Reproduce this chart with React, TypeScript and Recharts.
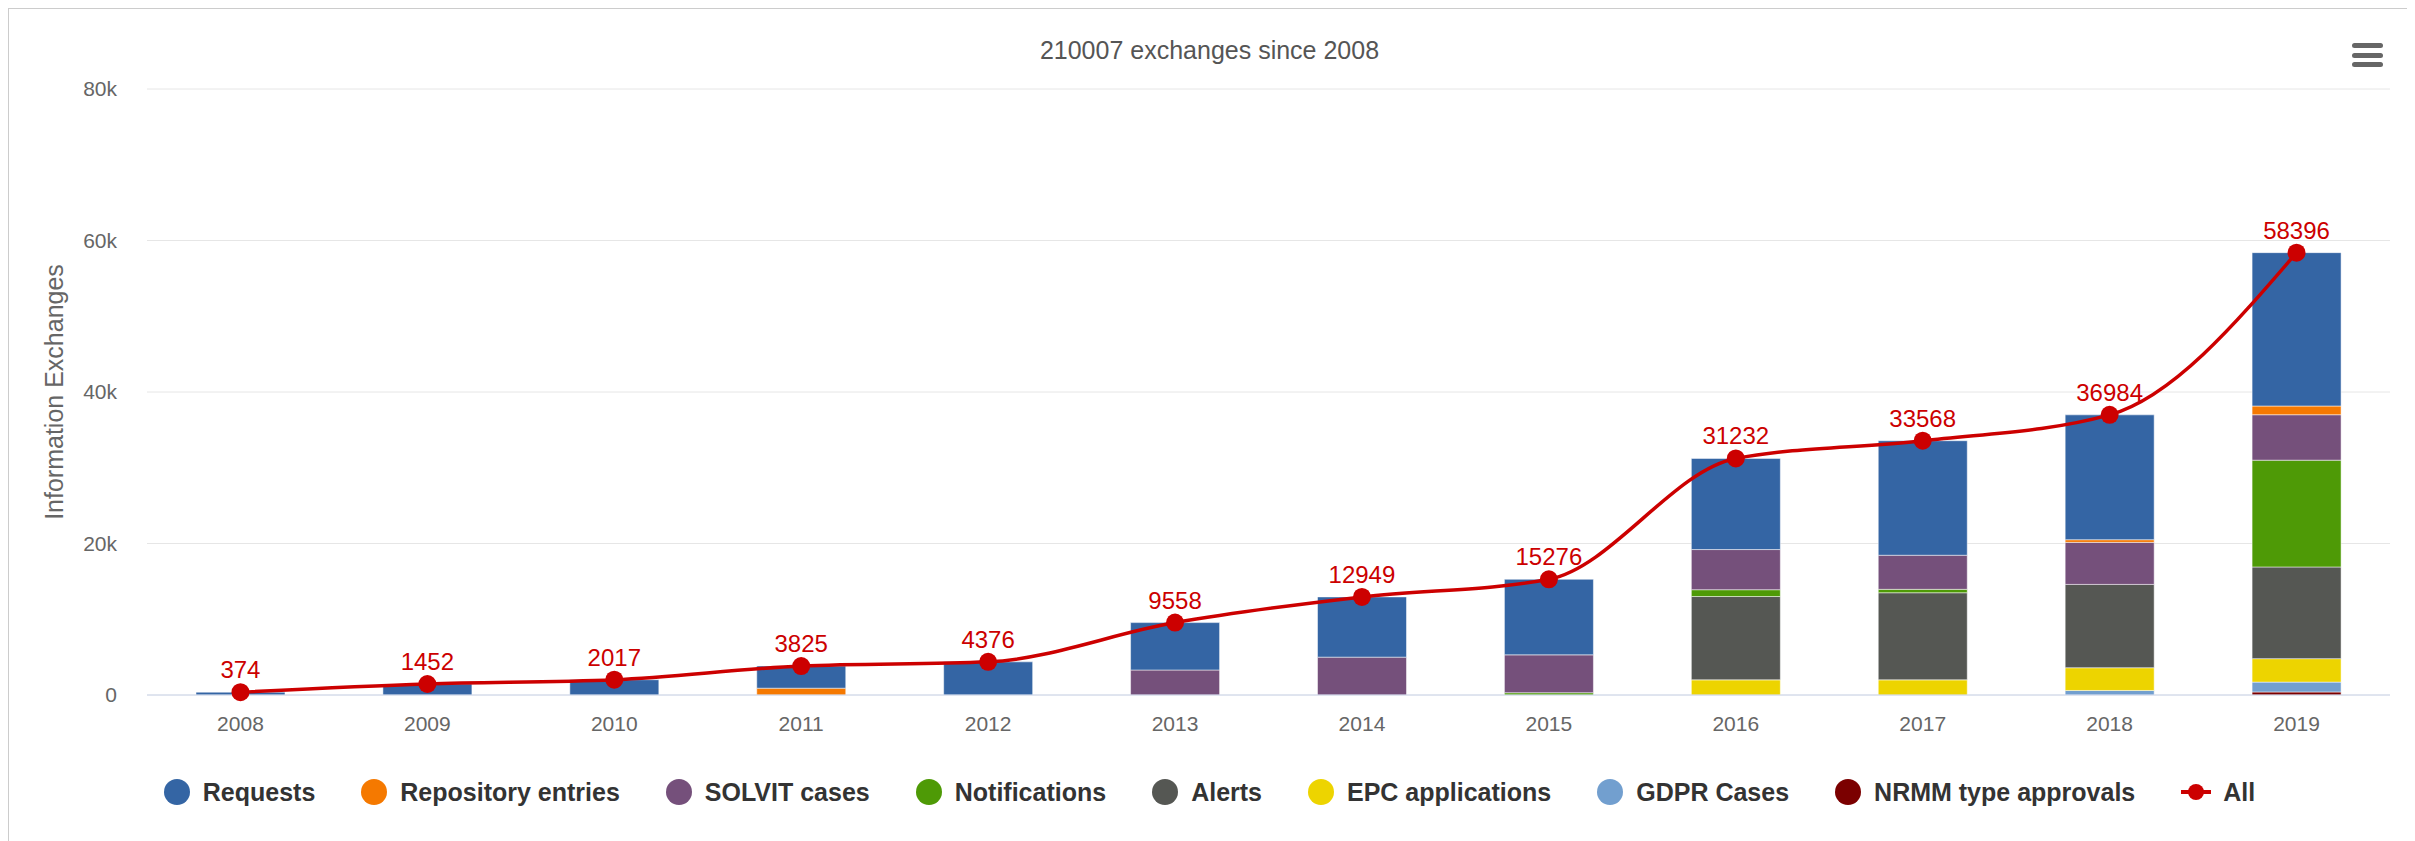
import React from "react";
import { ComposedChart, Bar, Line, XAxis, YAxis, CartesianGrid, LabelList } from "recharts";

const years = ["2008", "2009", "2010", "2011", "2012", "2013", "2014", "2015", "2016", "2017", "2018", "2019"];
const requests = [374, 1452, 2017, 2925, 4376, 6258, 7949, 9976, 12032, 15118, 16484, 20246];
const repositoryEntries = [0, 0, 0, 900, 0, 0, 0, 0, 0, 0, 350, 1150];
const solvitCases = [0, 0, 0, 0, 0, 3300, 5000, 5000, 5300, 4500, 5550, 6000];
const notifications = [0, 0, 0, 0, 0, 0, 0, 300, 900, 450, 0, 14100];
const alerts = [0, 0, 0, 0, 0, 0, 0, 0, 11000, 11500, 11000, 12100];
const epcApplications = [0, 0, 0, 0, 0, 0, 0, 0, 2000, 2000, 3000, 3100];
const gdprCases = [0, 0, 0, 0, 0, 0, 0, 0, 0, 0, 600, 1300];
const nrmmApprovals = [0, 0, 0, 0, 0, 0, 0, 0, 0, 0, 0, 400];
const allExchanges = [374, 1452, 2017, 3825, 4376, 9558, 12949, 15276, 31232, 33568, 36984, 58396];
const yTicks = [0, 20000, 40000, 60000, 80000];

// legend / stacking order (top of stack first)
const series = [
  { key: "requests", name: "Requests", color: "#3465a4", values: requests },
  { key: "repository", name: "Repository entries", color: "#f57900", values: repositoryEntries },
  { key: "solvit", name: "SOLVIT cases", color: "#75507b", values: solvitCases },
  { key: "notifications", name: "Notifications", color: "#4e9a06", values: notifications },
  { key: "alerts", name: "Alerts", color: "#555753", values: alerts },
  { key: "epc", name: "EPC applications", color: "#edd400", values: epcApplications },
  { key: "gdpr", name: "GDPR Cases", color: "#729fcf", values: gdprCases },
  { key: "nrmm", name: "NRMM type approvals", color: "#7b0000", values: nrmmApprovals },
];

const data = years.map((year, i) => {
  const row: Record<string, string | number> = { year, all: allExchanges[i] };
  series.forEach((s) => (row[s.key] = s.values[i]));
  return row;
});

const font = "'Liberation Sans', Arial, Helvetica, sans-serif";

function Legend() {
  return (
    <div
      style={{
        position: "absolute", top: 768, left: 0, width: "100%", height: 30,
        display: "flex", justifyContent: "center", alignItems: "center",
        fontWeight: "bold", fontSize: 25, color: "#333",
      }}
    >
      {series.map((s) => (
        <div key={s.key} style={{ display: "flex", alignItems: "center", marginRight: 46 }}>
          <span style={{ width: 26, height: 26, borderRadius: 13, background: s.color, marginRight: 13 }} />
          <span>{s.name}</span>
        </div>
      ))}
      <div style={{ display: "flex", alignItems: "center" }}>
        <span style={{ position: "relative", width: 30, height: 18, marginRight: 12 }}>
          <span style={{ position: "absolute", left: 0, top: 7, width: 30, height: 4, background: "#cc0000" }} />
          <span style={{ position: "absolute", left: 7, top: 1, width: 16, height: 16, borderRadius: 8, background: "#cc0000" }} />
        </span>
        <span>All</span>
      </div>
    </div>
  );
}

export default function App() {
  return (
    <div
      style={{
        position: "relative", width: 2401, height: 832, fontFamily: font,
        border: "1px solid #cccccc", borderBottom: "none", background: "#fff",
      }}
    >
      <div style={{ position: "absolute", top: 29, width: "100%", textAlign: "center", fontSize: 25, color: "#555", lineHeight: 1 }}>
        210007 exchanges since 2008
      </div>
      <div style={{ position: "absolute", right: 27, top: 34 }}>
        {[0, 1, 2].map((i) => (
          <div key={i} style={{ width: 31, height: 5, borderRadius: 3, background: "#666", marginBottom: 4.5 }} />
        ))}
      </div>
      <div style={{ position: "absolute", left: 45, top: 383, width: 0, height: 0, overflow: "visible" }}>
        <div
          style={{
            position: "absolute", transform: "translate(-50%, -50%) rotate(-90deg)", whiteSpace: "nowrap",
            fontSize: 25, color: "#666", lineHeight: 1,
          }}
        >
          Information Exchanges
        </div>
      </div>
      <ComposedChart
        width={2401}
        height={832}
        data={data}
        margin={{ top: 80, right: 20, left: 58, bottom: 106 }}
        style={{ fontFamily: font }}
      >
        <CartesianGrid vertical={false} stroke="#e6e6e6" />
        <XAxis
          dataKey="year"
          height={40}
          tick={{ fill: "#666", fontSize: 21 }}
          tickLine={false}
          tickMargin={15}
          axisLine={{ stroke: "#ccd6eb" }}
        />
        <YAxis
          width={80}
          domain={[0, 80000]}
          ticks={yTicks}
          tickFormatter={(v: number) => (v === 0 ? "0" : `${v / 1000}k`)}
          tick={{ fill: "#666", fontSize: 21 }}
          tickLine={false}
          tickMargin={24}
          axisLine={false}
        />
        {[...series].reverse().map((s) => (
          <Bar
            key={s.key}
            dataKey={s.key}
            name={s.name}
            stackId="a"
            fill={s.color}
            barSize={89}
            stroke="#ffffff"
            strokeWidth={0.5}
            isAnimationActive={false}
          />
        ))}
        <Line
          type="monotone"
          dataKey="all"
          name="All"
          stroke="#cc0000"
          strokeWidth={3.5}
          dot={{ r: 9, fill: "#cc0000", stroke: "none" }}
          isAnimationActive={false}
        >
          <LabelList dataKey="all" position="top" offset={14} fill="#cc0000" fontSize={24} />
        </Line>
      </ComposedChart>
      <Legend />
    </div>
  );
}
